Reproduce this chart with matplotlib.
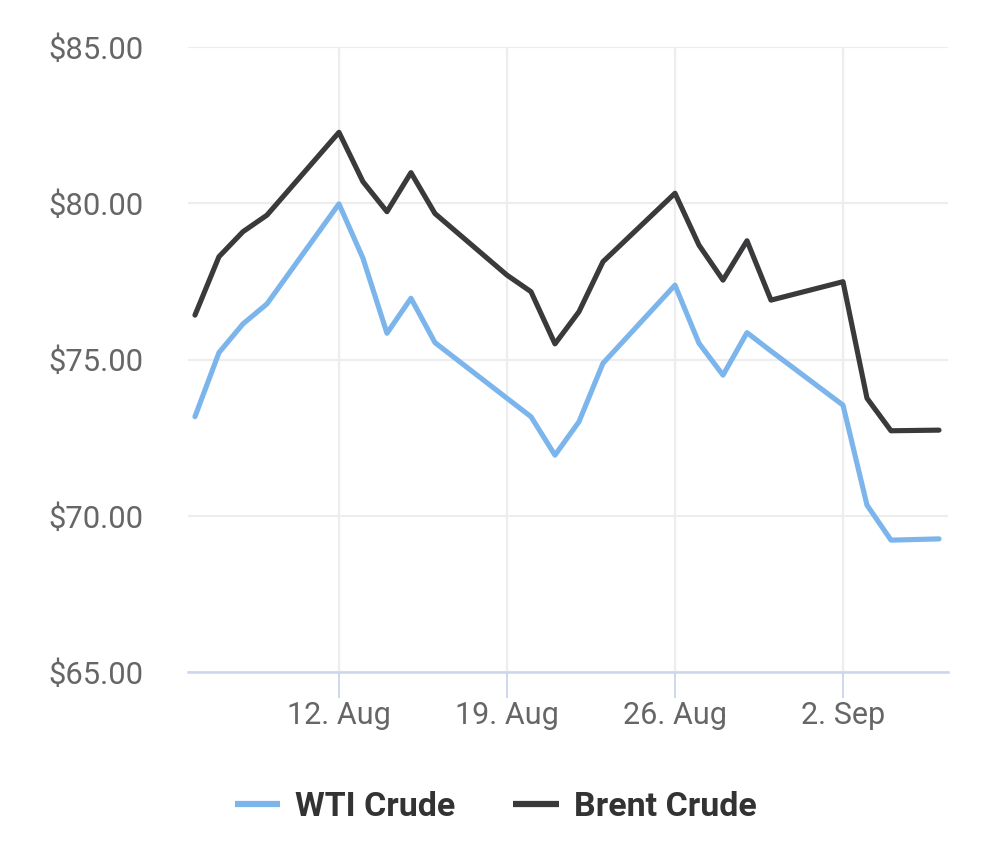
import matplotlib
matplotlib.use("Agg")
import matplotlib.pyplot as plt
import matplotlib.dates as mdates
import numpy as np
from matplotlib.ticker import FixedLocator, FuncFormatter

dates = ["2024-08-06", "2024-08-07", "2024-08-08", "2024-08-09", "2024-08-12",
         "2024-08-13", "2024-08-14", "2024-08-15", "2024-08-16", "2024-08-19",
         "2024-08-20", "2024-08-21", "2024-08-22", "2024-08-23", "2024-08-26",
         "2024-08-27", "2024-08-28", "2024-08-29", "2024-08-30", "2024-09-02",
         "2024-09-03", "2024-09-04", "2024-09-06"]
wti = [73.17, 75.22, 76.14, 76.78, 79.98, 78.24, 75.84, 76.96, 75.54, 73.76,
       73.17, 71.94, 73.01, 74.88, 77.38, 75.52, 74.50, 75.86, 75.27, 73.54,
       70.34, 69.22, 69.26]
brent = [76.42, 78.29, 79.09, 79.62, 82.27, 80.69, 79.73, 80.98, 79.67, 77.70,
         77.17, 75.50, 76.53, 78.13, 80.32, 78.66, 77.54, 78.80, 76.90, 77.49,
         73.76, 72.72, 72.74]
series_names = ["WTI Crude", "Brent Crude"]
y_ticks = [65, 70, 75, 80, 85]
x_tick_dates = ["2024-08-12", "2024-08-19", "2024-08-26", "2024-09-02"]
x_tick_labels = ["12. Aug", "19. Aug", "26. Aug", "2. Sep"]

plt.rcParams['font.family'] = ['Roboto', 'DejaVu Sans']

fig = plt.figure(figsize=(10, 8.5), dpi=100)
ax = fig.add_axes([0.188, 0.2094, 0.760, 0.7353])

xd = mdates.datestr2num(dates)
blue = "#7cb5ec"
dark = "#3a3a3c"
l1, = ax.plot(xd, wti, color=blue, lw=3.7, solid_joinstyle='round',
              solid_capstyle='round', label=series_names[0], zorder=3)
l2, = ax.plot(xd, brent, color=dark, lw=3.7, solid_joinstyle='round',
              solid_capstyle='round', label=series_names[1], zorder=3)

xt = mdates.datestr2num(x_tick_dates)
ax.set_xlim(xt[0] - 6.29, xt[-1] + 4.375)
ax.set_ylim(65, 85)

ax.xaxis.set_major_locator(FixedLocator(xt))
ax.set_xticklabels(x_tick_labels)
ax.yaxis.set_major_locator(FixedLocator(y_ticks))
ax.yaxis.set_major_formatter(FuncFormatter(lambda v, p: f"${v:.2f}"))

grid_c = "#ededed"
ax.grid(True, color=grid_c, lw=1.6, zorder=0)
ax.set_axisbelow(True)
for s in ["top", "right", "left"]:
    ax.spines[s].set_visible(False)
ax.spines["bottom"].set_color("#ccd6eb")
ax.spines["bottom"].set_linewidth(1.8)

ax.tick_params(axis="y", length=0, pad=32, labelsize=22.3, labelcolor="#666666")
ax.tick_params(axis="x", length=19, width=1.3, color="#ccd6eb", pad=2,
               labelsize=22, labelcolor="#666666")

leg = fig.legend(handles=[l1, l2], loc="center", bbox_to_anchor=(0.4955, 0.051),
                 ncol=2, frameon=False, handlelength=1.35, handletextpad=0.44,
                 columnspacing=1.68, prop={'family': 'Roboto', 'weight': 'bold', 'size': 24.5})
for t in leg.get_texts():
    t.set_color("#333333")
for h in leg.legend_handles:
    h.set_linewidth(4.5)
    h.set_solid_capstyle('butt')

fig.savefig("out.png", dpi=100, facecolor="white")
